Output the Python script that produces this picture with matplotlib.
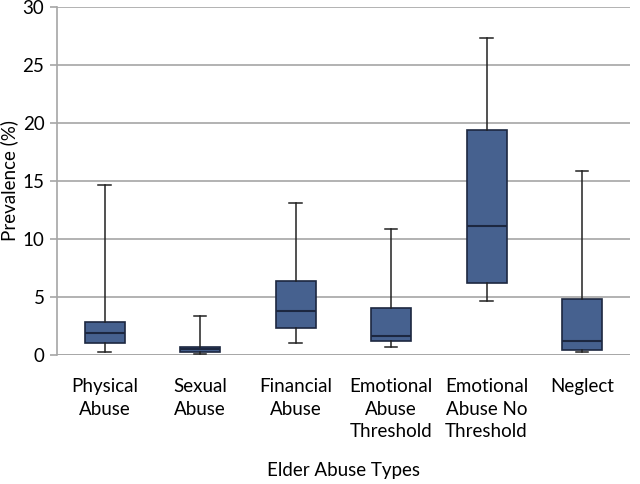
import matplotlib
matplotlib.use("Agg")
import matplotlib.pyplot as plt

# Values (%)
categories = ["Physical\nAbuse", "Sexual\nAbuse", "Financial\nAbuse",
              "Emotional\nAbuse\nThreshold", "Emotional\nAbuse No\nThreshold", "Neglect"]
whisker_low = [0.2, 0.05, 1.0, 0.7, 4.6, 0.2]
q1 = [1.05, 0.2, 2.3, 1.15, 6.15, 0.4]
median = [1.9, 0.5, 3.8, 1.6, 11.1, 1.2]
q3 = [2.85, 0.7, 6.35, 4.0, 19.4, 4.85]
whisker_high = [14.6, 3.3, 13.1, 10.8, 27.3, 15.8]

plt.rcParams['font.family'] = ['Lato', 'DejaVu Sans']

fig = plt.figure(figsize=(6.4, 4.84), dpi=100)
ax = fig.add_axes([0.089, 0.267, 0.895, 0.719])

stats = []
for i in range(len(categories)):
    stats.append({'whislo': whisker_low[i], 'q1': q1[i], 'med': median[i],
                  'q3': q3[i], 'whishi': whisker_high[i], 'fliers': []})

ax.bxp(stats, positions=range(len(categories)), widths=0.42, patch_artist=True,
       showfliers=False,
       boxprops=dict(facecolor='#46618f', edgecolor='#1c2740', linewidth=1.2),
       medianprops=dict(color='#1c2740', linewidth=1.5),
       whiskerprops=dict(color='#222222', linewidth=1.1),
       capprops=dict(color='#222222', linewidth=1.1),
       capwidths=0.13)

ax.set_ylim(0, 30)
ax.set_xlim(-0.5, len(categories) - 0.5)
ax.set_yticks(range(0, 31, 5))
ax.yaxis.grid(True, color='#a6a6a6', linewidth=1.2)
ax.set_axisbelow(True)
for s in ['top', 'right', 'bottom']:
    ax.spines[s].set_visible(False)
ax.spines['left'].set_color('#a6a6a6')
ax.spines['left'].set_linewidth(1.2)
ax.axhline(0, color='#a6a6a6', linewidth=1.2, zorder=0)
ax.set_xticks(range(len(categories)))
ax.set_xticklabels(categories, fontsize=13.5, linespacing=1.38, va='top')
ax.tick_params(axis='x', length=0, pad=17)
ax.tick_params(axis='y', labelsize=13.5, color='#a6a6a6', length=5, width=1.2, pad=4)
ax.set_ylabel("Prevalence (%)", fontsize=13.5)
ax.yaxis.set_label_coords(-0.068, 0.5)
ax.set_xlabel("Elder Abuse Types", fontsize=13.5, labelpad=16)

fig.savefig("out.png", dpi=100)
